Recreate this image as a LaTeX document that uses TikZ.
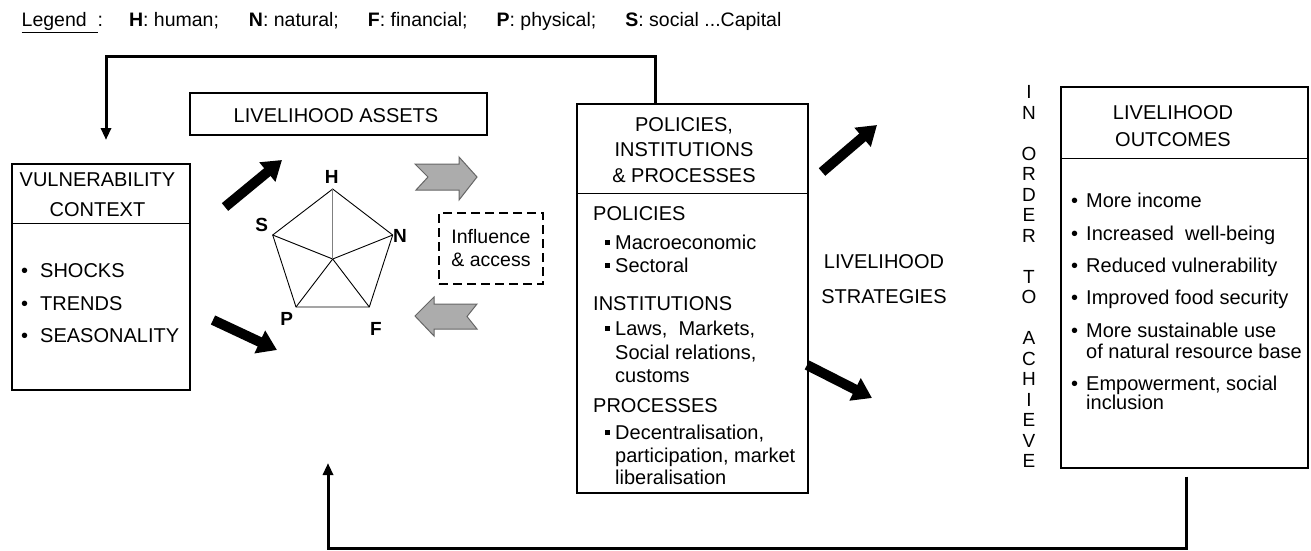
\documentclass[tikz,border=0pt]{standalone}
\usepackage{fontspec}
\setmainfont{Liberation Sans}
\usetikzlibrary{arrows.meta}
\newcommand\myfs{\fontsize{20pt}{24pt}\selectfont}
\newcommand\mylfs{\fontsize{19.5pt}{22pt}\selectfont}
\newcommand\mysq{\raisebox{4.5pt}{\rule{5pt}{5pt}}\hspace{5pt}}
\newcommand\mybul{\makebox[15pt][l]{\textbullet}}
\begin{document}
\begin{tikzpicture}[x=1pt,y=-1pt,
  box/.style={draw, line width=1.3pt, inner sep=0pt},
  txt/.style={font=\myfs, inner sep=0pt, align=center},
  ln/.style={font=\myfs, inner sep=0pt, anchor=base west},
  lbl/.style={font=\fontsize{19pt}{22pt}\selectfont\bfseries, inner sep=0pt},
  fb/.style={line width=3pt, -{Triangle[length=12pt,width=10pt]}},
  bigarrow/.style={line width=10pt, -{Triangle[length=19pt,width=24pt]}},
  grayarrow/.style={fill=gray!65, draw=gray!80!black, line width=1pt, line join=miter},
  penta/.style={line width=0.9pt},
  vl/.style={font=\fontsize{19pt}{20pt}\selectfont, inner sep=0pt}
]
\useasboundingbox (0,0) rectangle (1311,551);
\fill[white] (0,0) rectangle (1311,551);

% legend
\node[ln, font=\mylfs] (legend) at (21.5,27) {\underline{Legend\ \ }:\hspace{26pt}\textbf{H}: human;\hspace{30pt}\textbf{N}: natural;\hspace{29pt}\textbf{F}: financial;\hspace{29pt}\textbf{P}: physical;\hspace{29pt}\textbf{S}: social ...Capital};

% vulnerability context
\node[box, minimum width=178pt, minimum height=226pt] (vul) at (101,277) {};
\draw[box] ([yshift=-60pt]vul.north west) -- ([yshift=-60pt]vul.north east);
\node[txt, font=\fontsize{20pt}{30pt}\selectfont] (vulT) at (97.5,195) {VULNERABILITY\\CONTEXT};
\node[ln] (v1) at (21,277) {\makebox[19pt][l]{\textbullet}SHOCKS};
\node[ln] (v2) at (21,310) {\makebox[19pt][l]{\textbullet}TRENDS};
\node[ln] (v3) at (21,342) {\makebox[19pt][l]{\textbullet}SEASONALITY};

% livelihood assets
\node[box, minimum width=297pt, minimum height=42pt] (assets) at (338.5,114) {};
\node[txt] (assetsT) at (336,116) {LIVELIHOOD ASSETS};

% pentagon
\coordinate (pH) at (332.7,189);
\coordinate (pN) at (392.7,235);
\coordinate (pF) at (369.3,307);
\coordinate (pP) at (296,307);
\coordinate (pS) at (272.7,235);
\coordinate (pC) at (332.7,259);
\draw[penta, line join=miter] (pH)--(pN)--(pF)--(pP)--(pS)--cycle;
\foreach \v in {pN,pF,pP,pS} \draw[penta] (pC)--(\v);
\draw[penta, gray] (pC)--(pH);
\node[lbl] (lH) at (331.7,177) {H};
\node[lbl] (lN) at (400,236) {N};
\node[lbl] (lF) at (376,329) {F};
\node[lbl] (lP) at (286.7,319) {P};
\node[lbl] (lS) at (261.7,225) {S};

% big black arrows
\coordinate (b1s) at (225,207); \coordinate (b1e) at (282,160);
\coordinate (b2s) at (213,320); \coordinate (b2e) at (277,350);
\coordinate (b3s) at (822,172); \coordinate (b3e) at (877,125);
\coordinate (b4s) at (807,365); \coordinate (b4e) at (872,398);
\draw[bigarrow] (b1s) -- (b1e);
\draw[bigarrow] (b2s) -- (b2e);
\draw[bigarrow] (b3s) -- (b3e);
\draw[bigarrow] (b4s) -- (b4e);

% gray arrows
\draw[grayarrow] (415,164) -- (459,164) -- (459,157) -- (477,177) -- (459,200) -- (459,190) -- (416,190) -- (428,177) -- cycle;
\draw[grayarrow] (415,316) -- (434,297) -- (434,304) -- (477,304) -- (467,316.5) -- (477,329) -- (434,329) -- (434,336) -- cycle;

% influence & access
\node[draw, dash pattern=on 9pt off 5pt, line width=1.5pt, minimum width=104pt, minimum height=71pt, txt, font=\fontsize{19.5pt}{23pt}\selectfont] (infl) at (491,248.5) {Influence\\\& access};

% policies, institutions & processes
\node[box, minimum width=231pt, minimum height=389pt] (pol) at (692.5,298.5) {};
\draw[box] ([yshift=-90pt]pol.north west) -- ([yshift=-90pt]pol.north east);
\node[txt, font=\fontsize{20pt}{25.5pt}\selectfont] (polT) at (684,150) {POLICIES,\\INSTITUTIONS\\\& PROCESSES};
\node[ln] (p1) at (593,220) {POLICIES};
\node[ln] (p2) at (605,249) {\mysq Macroeconomic};
\node[ln] (p3) at (605,272) {\mysq Sectoral};
\node[ln] (p4) at (593,310) {INSTITUTIONS};
\node[ln] (p5) at (605,335) {\mysq Laws,\ \ Markets,};
\node[ln] (p6) at (615,359) {Social relations,};
\node[ln] (p7) at (615,382) {customs};
\node[ln] (p8) at (593,412) {PROCESSES};
\node[ln] (p9) at (605,439) {\mysq Decentralisation,};
\node[ln] (p10) at (615,462) {participation, market};
\node[ln] (p11) at (615,484) {liberalisation};

% livelihood strategies
\node[txt, font=\fontsize{20pt}{35pt}\selectfont] (strat) at (884,279) {LIVELIHOOD\\STRATEGIES};

% vertical text
\foreach \l/\r [count=\k] in {I/0,N/1,O/3,R/4,D/5,E/6,R/7,T/9,O/10,A/12,C/13,H/14,I/15,E/16,V/17,E/18}
  \node[vl] (ach\k) at (1029, 92+20.5*\r) {\l};

% livelihood outcomes
\node[box, minimum width=247pt, minimum height=381pt] (out) at (1184.5,277.5) {};
\draw[box] ([yshift=-72pt]out.north west) -- ([yshift=-72pt]out.north east);
\node[txt, font=\fontsize{20pt}{27pt}\selectfont] (outT) at (1173,126.5) {LIVELIHOOD\\OUTCOMES};
\node[ln] (o1) at (1071,207) {\mybul More income};
\node[ln] (o2) at (1071,240) {\mybul Increased\ \ well-being};
\node[ln] (o3) at (1071,272) {\mybul Reduced vulnerability};
\node[ln] (o4) at (1071,304) {\mybul Improved food security};
\node[ln] (o5) at (1071,337) {\mybul More sustainable use};
\node[ln] (o6) at (1086,358) {of natural resource base};
\node[ln] (o7) at (1071,390) {\mybul Empowerment, social};
\node[ln] (o8) at (1086,409) {inclusion};

% feedback loops
\coordinate (tR) at (655,57);
\coordinate (tL) at (106,57);
\coordinate (vIn) at (106,140);
\draw[fb] (pol.north -| tR) -- (tR) -- (tL) -- (vIn);
\coordinate (oS) at ([yshift=-8pt]out.south);
\coordinate (bR) at (1186,548);
\coordinate (bL) at (328,548);
\coordinate (aIn) at (328,463);
\draw[fb] (oS -| bR) -- (bR) -- (bL) -- (aIn);
\end{tikzpicture}
\end{document}
